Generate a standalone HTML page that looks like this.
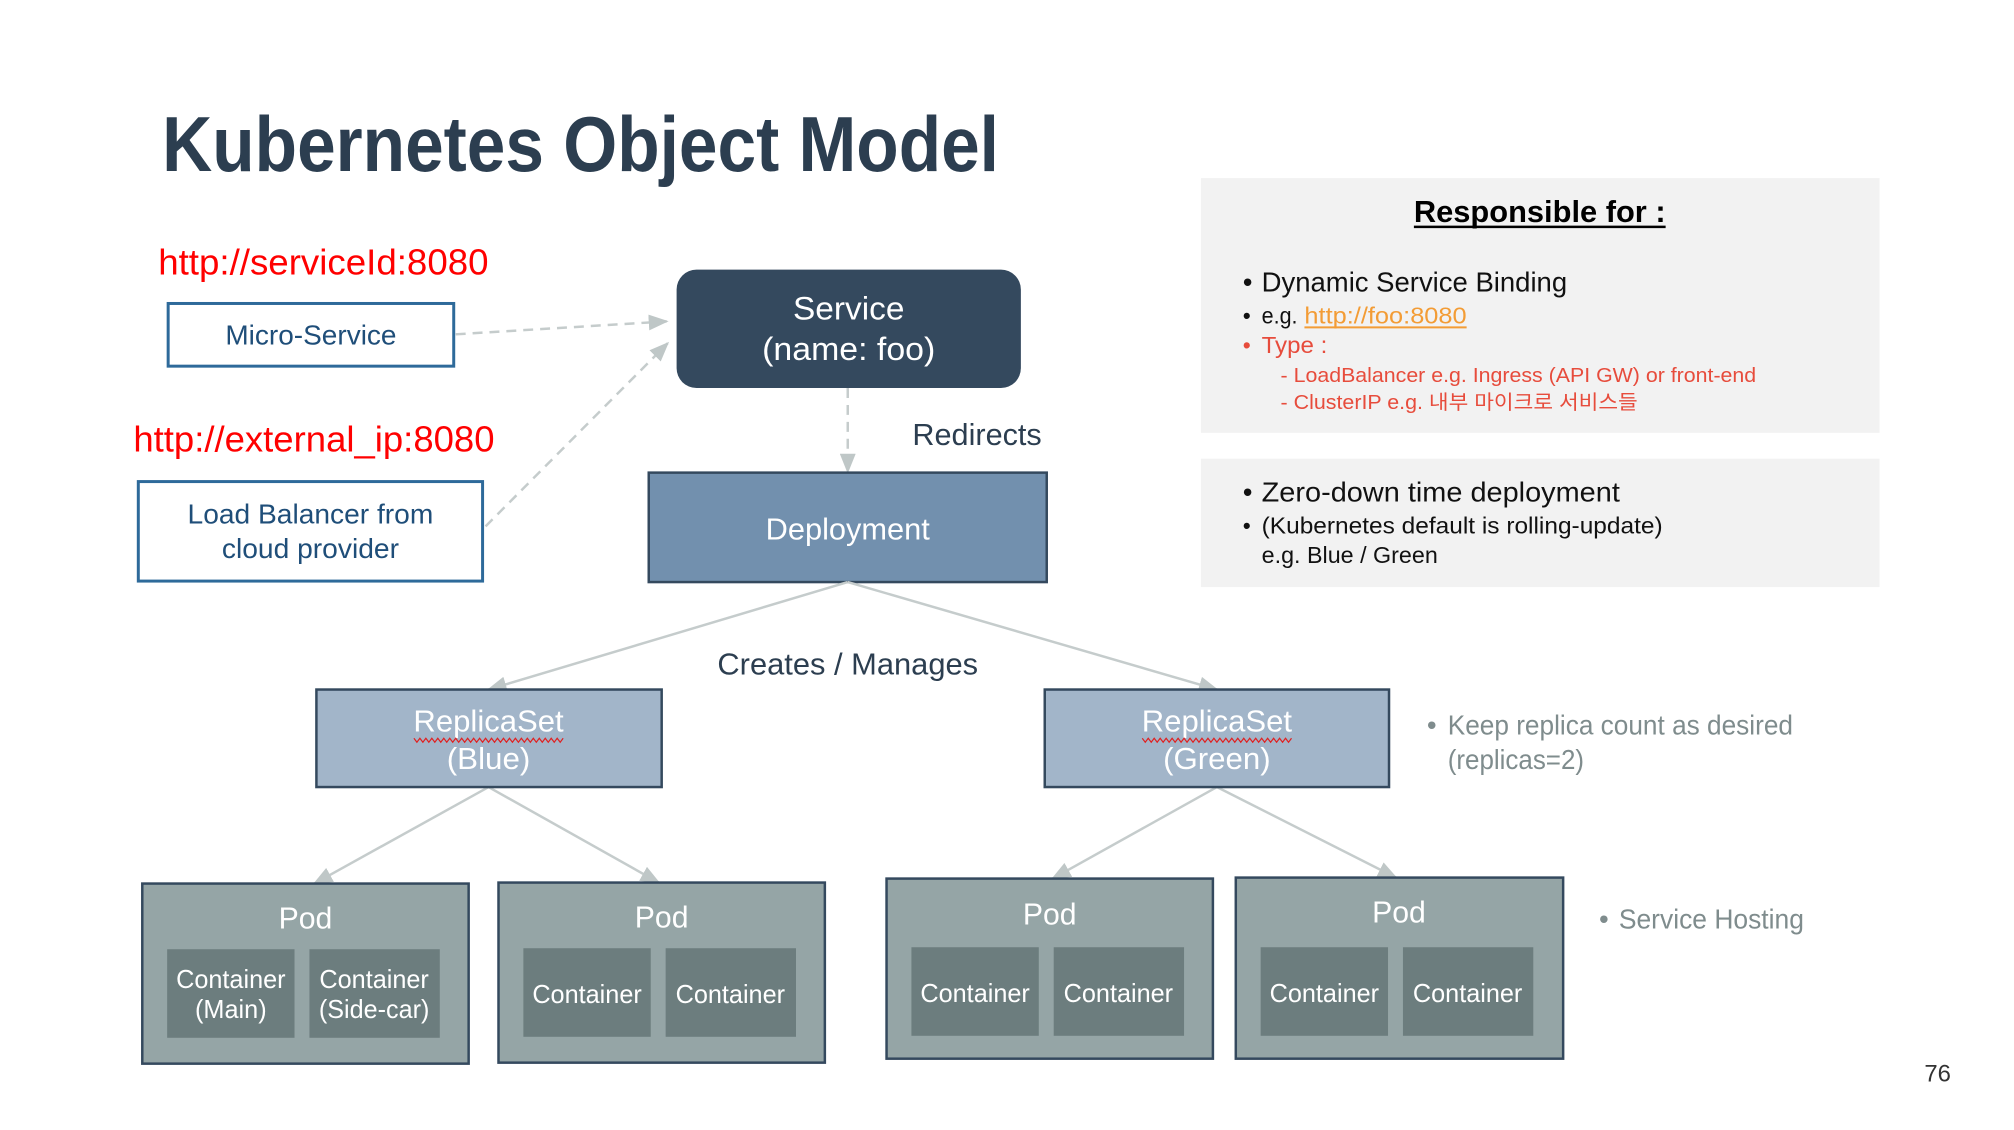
<!DOCTYPE html>
<html><head><meta charset="utf-8"><style>html,body{margin:0;padding:0;background:#fff}svg{display:block}</style></head><body>
<svg width="2014" height="1130" viewBox="0 0 2014 1130" xmlns="http://www.w3.org/2000/svg" font-family="Liberation Sans, Noto Sans CJK KR, sans-serif">
<defs>
<marker id="ab" markerWidth="20" markerHeight="16" refX="18" refY="8" orient="auto" markerUnits="userSpaceOnUse"><path d="M0,0 L20,8 L0,16 z" fill="#bfc7c7"/></marker>
</defs>
<g transform="scale(0.995)">
<text x="163" y="172" font-size="78" font-weight="bold" fill="#2c3e50" textLength="841" lengthAdjust="spacingAndGlyphs">Kubernetes Object Model</text>
<rect x="1207" y="179" width="682" height="256" fill="#f2f2f2"/>
<rect x="1207" y="461" width="682" height="129" fill="#f2f2f2"/>
<text x="1421" y="223" font-size="31" font-weight="bold" fill="#000" textLength="253" lengthAdjust="spacingAndGlyphs">Responsible for :</text>
<line x1="1421" y1="228" x2="1674" y2="228" stroke="#000" stroke-width="2.5"/>
<g font-size="28" fill="#111">
<text x="1249" y="293">•</text><text x="1268" y="293" textLength="307" lengthAdjust="spacingAndGlyphs">Dynamic Service Binding</text>
</g>
<g font-size="23" fill="#111">
<text x="1249" y="325">•</text><text x="1268" y="325" textLength="36" lengthAdjust="spacingAndGlyphs">e.g.</text>
<text x="1311" y="325" fill="#f39c35" textLength="163" lengthAdjust="spacingAndGlyphs">http://foo:8080</text>
</g>
<line x1="1311" y1="329" x2="1474" y2="329" stroke="#f39c35" stroke-width="2"/>
<g font-size="23" fill="#e74c3c">
<text x="1249" y="355">•</text><text x="1268" y="355" textLength="66" lengthAdjust="spacingAndGlyphs">Type :</text>
</g>
<g font-size="20" fill="#e74c3c">
<text x="1287" y="384" textLength="478" lengthAdjust="spacingAndGlyphs">- LoadBalancer  e.g. Ingress (API GW) or front-end</text>
<text x="1287" y="411" textLength="359" lengthAdjust="spacingAndGlyphs">- ClusterIP  e.g. 내부 마이크로 서비스들</text>
</g>
<g font-size="28" fill="#111">
<text x="1249" y="504">•</text><text x="1268" y="504" textLength="360" lengthAdjust="spacingAndGlyphs">Zero-down time deployment</text>
</g>
<g font-size="23" fill="#111">
<text x="1249" y="536">•</text><text x="1268" y="536" textLength="403" lengthAdjust="spacingAndGlyphs">(Kubernetes default is rolling-update)</text>
<text x="1268" y="566" textLength="177" lengthAdjust="spacingAndGlyphs">e.g. Blue / Green</text>
</g>
<text x="159" y="276" font-size="36" fill="#ff0000" textLength="332" lengthAdjust="spacingAndGlyphs">http://serviceId:8080</text>
<text x="134" y="454" font-size="36" fill="#ff0000" textLength="363" lengthAdjust="spacingAndGlyphs">http://external_ip:8080</text>
<rect x="169" y="305" width="287" height="63" fill="#fff" stroke="#2e6a9a" stroke-width="3"/>
<text x="312.5" y="346" font-size="28" fill="#1f4e79" text-anchor="middle" textLength="172" lengthAdjust="spacingAndGlyphs">Micro-Service</text>
<rect x="139" y="484" width="346" height="100" fill="#fff" stroke="#2e6a9a" stroke-width="3"/>
<text x="312" y="526" font-size="28" fill="#1f4e79" text-anchor="middle" textLength="247" lengthAdjust="spacingAndGlyphs">Load Balancer from</text>
<text x="312" y="561" font-size="28" fill="#1f4e79" text-anchor="middle" textLength="178" lengthAdjust="spacingAndGlyphs">cloud provider</text>
<g stroke="#c5cccc" stroke-width="2.5" fill="none" stroke-dasharray="10,7">
<line x1="458" y1="336" x2="670" y2="323" marker-end="url(#ab)"/>
<line x1="488" y1="529" x2="671" y2="345" marker-end="url(#ab)"/>
<line x1="852" y1="390" x2="852" y2="474" marker-end="url(#ab)"/>
</g>
<rect x="680" y="271" width="346" height="119" rx="20" fill="#34495e"/>
<text x="853" y="321" font-size="33" fill="#fff" text-anchor="middle" textLength="112" lengthAdjust="spacingAndGlyphs">Service</text>
<text x="853" y="362" font-size="33" fill="#fff" text-anchor="middle" textLength="174" lengthAdjust="spacingAndGlyphs">(name: foo)</text>
<text x="917" y="447" font-size="31" fill="#2c3e50" textLength="130" lengthAdjust="spacingAndGlyphs">Redirects</text>
<rect x="652" y="475" width="400" height="110" fill="#7290ae" stroke="#34495e" stroke-width="2.5"/>
<text x="852" y="542" font-size="31" fill="#fff" text-anchor="middle" textLength="165" lengthAdjust="spacingAndGlyphs">Deployment</text>
<g stroke="#c5cccc" stroke-width="2.5" fill="none">
<line x1="852" y1="585" x2="491" y2="693" marker-end="url(#ab)"/>
<line x1="852" y1="585" x2="1223" y2="693" marker-end="url(#ab)"/>
<line x1="491" y1="791" x2="316" y2="888" marker-end="url(#ab)"/>
<line x1="491" y1="791" x2="662" y2="887" marker-end="url(#ab)"/>
<line x1="1223" y1="791" x2="1058" y2="883" marker-end="url(#ab)"/>
<line x1="1223" y1="791" x2="1403" y2="882" marker-end="url(#ab)"/>
</g>
<text x="852" y="678" font-size="31" fill="#2c3e50" text-anchor="middle" textLength="262" lengthAdjust="spacingAndGlyphs">Creates / Manages</text>
<rect x="318" y="693" width="347" height="98" fill="#a2b5c9" stroke="#34495e" stroke-width="2.5"/>
<rect x="1050" y="693" width="346" height="98" fill="#a2b5c9" stroke="#34495e" stroke-width="2.5"/>
<g font-size="31" fill="#fff" text-anchor="middle">
<text x="491" y="735" textLength="151" lengthAdjust="spacingAndGlyphs">ReplicaSet</text>
<text x="491" y="773" textLength="84" lengthAdjust="spacingAndGlyphs">(Blue)</text>
<text x="1223" y="735" textLength="151" lengthAdjust="spacingAndGlyphs">ReplicaSet</text>
<text x="1223" y="773" textLength="108" lengthAdjust="spacingAndGlyphs">(Green)</text>
</g>
<g stroke="#e02020" stroke-width="1.2" fill="none">
<polyline points="416,742 419,746 422,742 425,746 428,742 431,746 434,742 437,746 440,742 443,746 446,742 449,746 452,742 455,746 458,742 461,746 464,742 467,746 470,742 473,746 476,742 479,746 482,742 485,746 488,742 491,746 494,742 497,746 500,742 503,746 506,742 509,746 512,742 515,746 518,742 521,746 524,742 527,746 530,742 533,746 536,742 539,746 542,742 545,746 548,742 551,746 554,742 557,746 560,742 563,746 566,742"/>
<polyline points="1148,742 1151,746 1154,742 1157,746 1160,742 1163,746 1166,742 1169,746 1172,742 1175,746 1178,742 1181,746 1184,742 1187,746 1190,742 1193,746 1196,742 1199,746 1202,742 1205,746 1208,742 1211,746 1214,742 1217,746 1220,742 1223,746 1226,742 1229,746 1232,742 1235,746 1238,742 1241,746 1244,742 1247,746 1250,742 1253,746 1256,742 1259,746 1262,742 1265,746 1268,742 1271,746 1274,742 1277,746 1280,742 1283,746 1286,742 1289,746 1292,742 1295,746 1298,742"/>
</g>
<g font-size="28" fill="#7f8c8d">
<text x="1434" y="738">•</text><text x="1455" y="738" textLength="347" lengthAdjust="spacingAndGlyphs">Keep replica count as desired</text>
<text x="1455" y="773" textLength="137" lengthAdjust="spacingAndGlyphs">(replicas=2)</text>
<text x="1607" y="933">•</text><text x="1627" y="933" textLength="186" lengthAdjust="spacingAndGlyphs">Service Hosting</text>
</g>
<g fill="#95a5a6" stroke="#34495e" stroke-width="2.5">
<rect x="143" y="888" width="328" height="181"/>
<rect x="501" y="887" width="328" height="181"/>
<rect x="891" y="883" width="328" height="181"/>
<rect x="1242" y="882" width="329" height="182"/>
</g>
<g fill="#6c7d7e">
<rect x="168" y="954" width="128" height="89"/><rect x="311" y="954" width="131" height="89"/>
<rect x="526" y="953" width="128" height="89"/><rect x="669" y="953" width="131" height="89"/>
<rect x="916" y="952" width="128" height="89"/><rect x="1059" y="952" width="131" height="89"/>
<rect x="1267" y="952" width="128" height="89"/><rect x="1410" y="952" width="131" height="89"/>
</g>
<g font-size="31" fill="#fff" text-anchor="middle">
<text x="307" y="933" textLength="54" lengthAdjust="spacingAndGlyphs">Pod</text>
<text x="665" y="932" textLength="54" lengthAdjust="spacingAndGlyphs">Pod</text>
<text x="1055" y="929" textLength="54" lengthAdjust="spacingAndGlyphs">Pod</text>
<text x="1406" y="927" textLength="54" lengthAdjust="spacingAndGlyphs">Pod</text>
</g>
<g font-size="26" fill="#fff" text-anchor="middle">
<text x="232" y="993" textLength="110" lengthAdjust="spacingAndGlyphs">Container</text>
<text x="232" y="1023" textLength="72" lengthAdjust="spacingAndGlyphs">(Main)</text>
<text x="376" y="993" textLength="110" lengthAdjust="spacingAndGlyphs">Container</text>
<text x="376" y="1023" textLength="111" lengthAdjust="spacingAndGlyphs">(Side-car)</text>
<text x="590" y="1008" textLength="110" lengthAdjust="spacingAndGlyphs">Container</text>
<text x="734" y="1008" textLength="110" lengthAdjust="spacingAndGlyphs">Container</text>
<text x="980" y="1007" textLength="110" lengthAdjust="spacingAndGlyphs">Container</text>
<text x="1124" y="1007" textLength="110" lengthAdjust="spacingAndGlyphs">Container</text>
<text x="1331" y="1007" textLength="110" lengthAdjust="spacingAndGlyphs">Container</text>
<text x="1475" y="1007" textLength="110" lengthAdjust="spacingAndGlyphs">Container</text>
</g>
<text x="1934" y="1087" font-size="24" fill="#333">76</text>
</g>
</svg>
</body></html>
